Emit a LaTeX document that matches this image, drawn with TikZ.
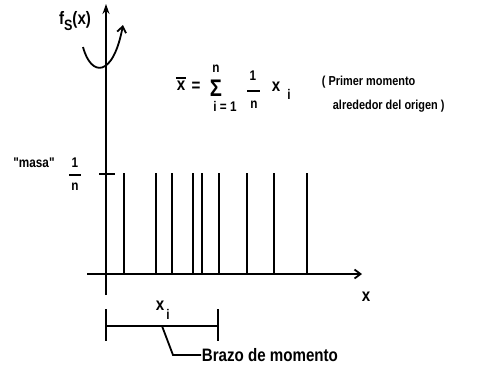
\documentclass[tikz,border=0pt]{standalone}
\usepackage{fontspec}
\setmainfont{Liberation Sans}
\usetikzlibrary{arrows.meta}
\newcommand\cnd[1]{\scalebox{0.84}[1]{#1}}
\begin{document}
\begin{tikzpicture}[x=1pt,y=-1pt, line width=1.8pt,
  txt/.style={inner sep=0pt, font=\bfseries\fontsize{18}{20}\selectfont},
  mid/.style={inner sep=0pt, font=\bfseries\fontsize{13}{15}\selectfont},
  sml/.style={inner sep=0pt, font=\bfseries\fontsize{14}{16}\selectfont},
  bar/.style={line width=1.4pt},
  arr/.style={-{Straight Barb[length=6pt,width=9pt,line width=1.8pt]}}]
\useasboundingbox (0,0) rectangle (502,370);
% axes
\coordinate (yb) at (106,295); \coordinate (yt) at (106,4);
\draw[-{Stealth[length=10pt,width=7pt]}] (yb) -- (yt);
\coordinate (xl) at (87,274); \coordinate (xr) at (362,274);
\draw[arr] (xl) -- (xr);
% tick
\coordinate (t1) at (99,174); \coordinate (t2) at (115,174);
\draw (t1) -- (t2);
% spikes
\foreach \x in {124,156,172,193,202,219,247,274,307}
  \draw (\x,173) -- (\x,274);
% f_S(x)
\node[txt] (fs) at (75,21) {\cnd{f\raisebox{-6pt}{\fontsize{15}{17}\selectfont S}(x)}};
\coordinate (c1) at (83,47); \coordinate (c2) at (123,25);
\draw[arr] (c1) .. controls (91,77) and (113,78) .. (c2);
% formula
\node[txt] (xbar) at (181,86) {\cnd{x}};
\draw[bar] ([yshift=2.5pt]xbar.north west) -- ([yshift=2.5pt]xbar.north east);
\node[txt] (eq) at (196,87) {\cnd{=}};
\node[inner sep=0pt, font=\bfseries\fontsize{24}{26}\selectfont] (sig) at (216,88) {\cnd{Σ}};
\node[sml] (sn) at (216,69) {\cnd{n}};
\node[sml] (si) at (225,106) {\cnd{i = 1}};
\node[sml] (f1) at (253,76) {\cnd{1}};
\coordinate (fb1) at (247,91); \coordinate (fb2) at (260,91);
\draw[bar] (fb1) -- (fb2);
\node[sml] (fn) at (254,105) {\cnd{n}};
\node[txt] (xi) at (276,87) {\cnd{x}};
\node[sml] (ii) at (289,94) {\cnd{i}};
\node[mid, anchor=west] (pm) at (321,82) {\cnd{( Primer momento}};
\node[mid, anchor=west] (ao) at (332,106) {\cnd{alrededor del origen )}};
% masa
\node[sml] (masa) at (34,163) {\cnd{\textquotedbl masa\textquotedbl}};
\node[sml] (m1) at (75,163) {\cnd{1}};
\coordinate (mb1) at (69,175); \coordinate (mb2) at (81,175);
\draw[bar] (mb1) -- (mb2);
\node[sml] (mn) at (75,187) {\cnd{n}};
% x label
\node[txt] (xlab) at (366,297) {\cnd{x}};
% bracket
\node[txt] (xil) at (160,306) {\cnd{x}};
\node[sml] (xii) at (168,314) {\cnd{i}};
\coordinate (bl1) at (106,309); \coordinate (bl2) at (106,341);
\coordinate (br1) at (218,309); \coordinate (br2) at (218,341);
\coordinate (bm1) at (106,326); \coordinate (bm2) at (218,326);
\draw (bl1) -- (bl2); \draw (br1) -- (br2); \draw (bm1) -- (bm2);
\coordinate (ld1) at (162,326); \coordinate (ld2) at (173,355);
\node[txt, anchor=west] (brazo) at (201,355) {\cnd{Brazo de momento}};
\draw (ld1) -- (ld2) -- (brazo.west);
\end{tikzpicture}
\end{document}
